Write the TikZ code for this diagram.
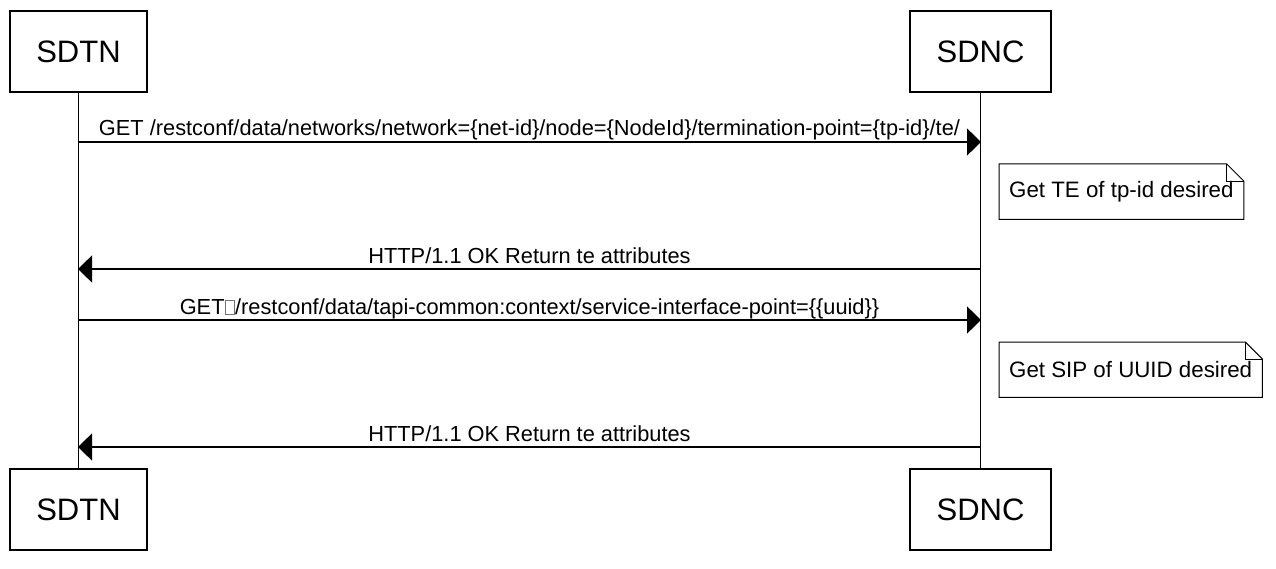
\documentclass[tikz,border=0pt]{standalone}
\usepackage{fontspec}
\setmainfont{Liberation Sans}
\usetikzlibrary{arrows.meta}
\newcommand{\tofu}{{\color{black!55}\setlength{\fboxsep}{0pt}\setlength{\fboxrule}{0.7pt}\fbox{\rule{0pt}{0.62em}\hspace{0.42em}}}}
\tikzset{
    actor/.style={draw,line width=1.5pt,fill=white,minimum width=137pt,minimum height=81pt,inner sep=0pt,font=\fontsize{31}{31}\selectfont},
    msg/.style={line width=1.3pt,-{Triangle[length=14pt,width=27pt]}},
    lbl/.style={font=\fontsize{21.8}{22}\selectfont,inner sep=0pt,anchor=base,yshift=6pt},
    notetext/.style={inner xsep=10pt,minimum height=55pt,font=\fontsize{22.3}{23}\selectfont},
}

\begin{document}
\begin{tikzpicture}[x=1pt,y=-1pt]
		\useasboundingbox (0,0) rectangle (1276,569);
		% participants
		\node[actor] (sdtnTop) at (78.5,51.5) {SDTN};
		\node[actor,minimum width=141pt] (sdncTop) at (980.5,51.5) {SDNC};
		\node[actor] (sdtnBot) at (78.5,509.5) {SDTN};
		\node[actor,minimum width=141pt] (sdncBot) at (980.5,509.5) {SDNC};
		\draw[line width=1.3pt] (sdtnTop) -- (sdtnBot);
		\draw[line width=1.3pt] (sdncTop) -- (sdncBot);
		% messages
		\coordinate (getTeL) at (78,142);   \coordinate (getTeR) at (981,142);
		\coordinate (okTeL) at (78,269);    \coordinate (okTeR) at (981,269);
		\coordinate (getSipL) at (78,320);  \coordinate (getSipR) at (981,320);
		\coordinate (okSipL) at (78,447);   \coordinate (okSipR) at (981,447);
		\draw[msg] (getTeL) -- (getTeR) node[lbl,midway] {GET /restconf/data/networks/network=\{net-id\}/node=\{NodeId\}/termination-point=\{tp-id\}/te/};
		\draw[msg] (okTeR) -- (okTeL) node[lbl,midway] {HTTP/1.1 OK Return te attributes};
		\draw[msg] (getSipL) -- (getSipR) node[lbl,midway] {GET\tofu/restconf/data/tapi-common:context/service-interface-point=\{\{uuid\}\}};
		\draw[msg] (okSipR) -- (okSipL) node[lbl,midway] {HTTP/1.1 OK Return te attributes};
		% notes
		\node[notetext,anchor=north west] (noteTe) at (999,164) {\raisebox{-2pt}{Get TE of tp-id desired}};
		\node[notetext,anchor=north west] (noteSip) at (999,342) {\raisebox{-2pt}{Get SIP of UUID desired}};
		\foreach \n in {noteTe,noteSip} {
			\draw[line width=1pt] (\n.south west) -- (\n.north west) -- ([xshift=-17pt]\n.north east) -- ([yshift=-17pt]\n.north east) -- (\n.south east) -- cycle;
			\draw[line width=0.8pt] ([xshift=-17pt]\n.north east) -- ([xshift=-17pt,yshift=-17pt]\n.north east) -- ([yshift=-17pt]\n.north east);
		}
	\end{tikzpicture}
\end{document}
